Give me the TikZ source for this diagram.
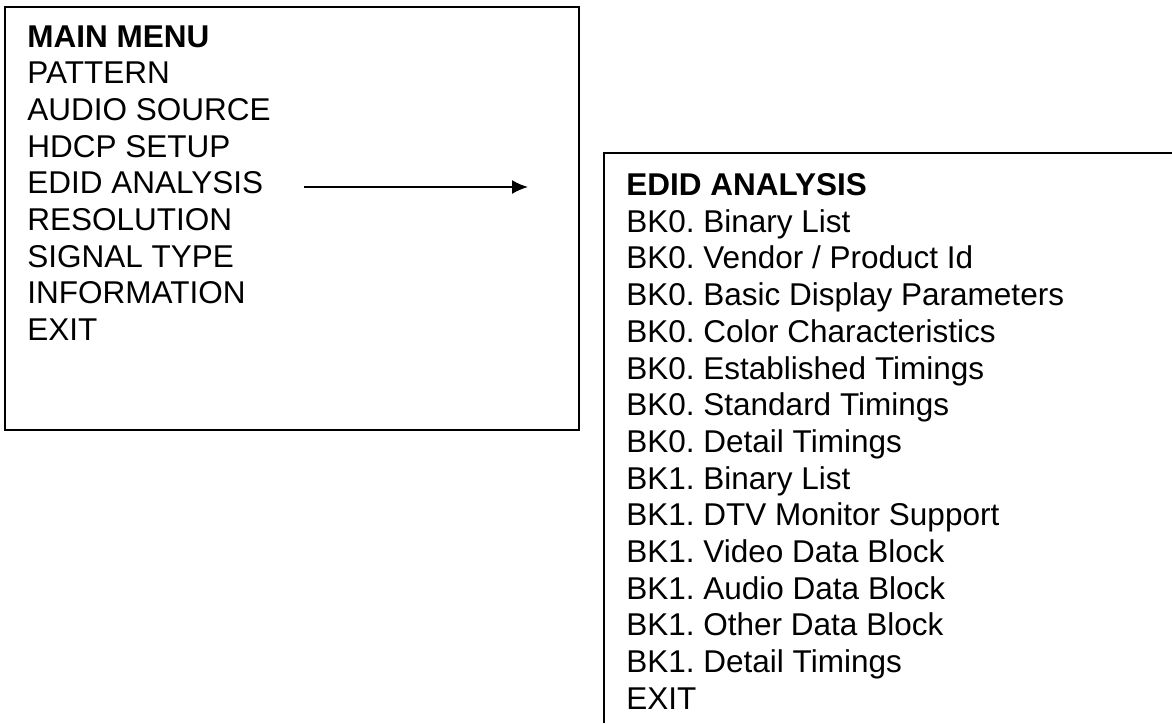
\documentclass[tikz,border=0pt]{standalone}
\usepackage{fontspec}
\setmainfont{Liberation Sans}
\usetikzlibrary{arrows.meta}
\newcommand{\menufont}{\fontsize{15.75}{18}\selectfont\frenchspacing}

\begin{document}
\begin{tikzpicture}[x=0.5pt,y=-0.5pt,
    item/.style={anchor=base west, inner sep=0pt, font=\menufont},
    title/.style={item, font=\menufont\bfseries},
    frame/.style={draw, line width=0.85pt},
    jump/.style={-{Latex[length=8pt,width=7pt]}, line width=0.9pt}]
    \useasboundingbox (0,0) rectangle (1172,723);
    %main menu
    \draw[frame] (5,7) rectangle (579,430);
    \node[title] (m0) at (27,47) {MAIN MENU};
    \foreach \txt [count=\i] in {PATTERN,AUDIO SOURCE,HDCP SETUP,EDID ANALYSIS,RESOLUTION,SIGNAL TYPE,INFORMATION,EXIT}
        \node[item] (m\i) at (27,47+36.7*\i) {\txt};
    %edid submenu
    \draw[frame] (1172,153) -| (604,723);
    \node[title] (e0) at (626,195.5) {EDID ANALYSIS};
    \foreach \txt [count=\i] in {BK0. Binary List,BK0. Vendor / Product Id,BK0. Basic Display Parameters,BK0. Color Characteristics,BK0. Established Timings,BK0. Standard Timings,BK0. Detail Timings,BK1. Binary List,BK1. DTV Monitor Support,BK1. Video Data Block,BK1. Audio Data Block,BK1. Other Data Block,BK1. Detail Timings,EXIT}
        \node[item] (e\i) at (626,195.5+36.7*\i) {\txt};
    \coordinate (from) at (304,187);
    \coordinate (to) at (528,187);
    \draw[jump] (from) -- (to);
\end{tikzpicture}
\end{document}
